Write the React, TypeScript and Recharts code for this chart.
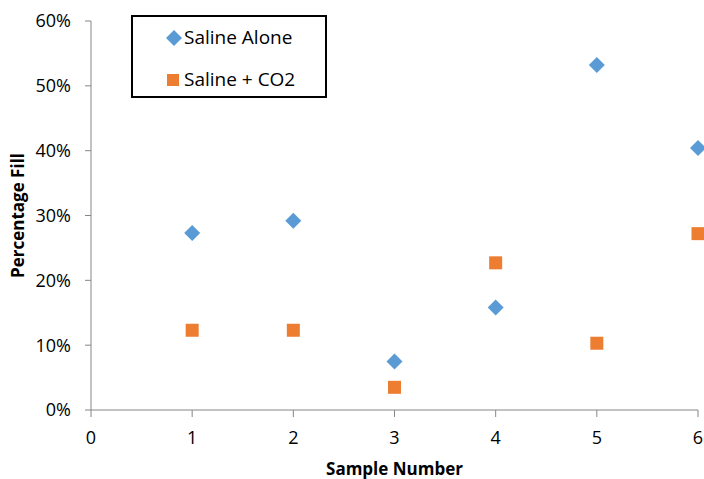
import React from 'react';
import { ScatterChart, Scatter, XAxis, YAxis, Legend } from 'recharts';

const SAMPLES = [1, 2, 3, 4, 5, 6];
const SALINE_ALONE = [0.273, 0.292, 0.075, 0.158, 0.532, 0.404];
const SALINE_CO2 = [0.123, 0.123, 0.035, 0.227, 0.103, 0.272];
const X_TICKS = [0, 1, 2, 3, 4, 5, 6];
const Y_TICKS = [0, 0.1, 0.2, 0.3, 0.4, 0.5, 0.6];
const SERIES_NAMES = ['Saline Alone', 'Saline + CO2'];

const BLUE = '#5B9BD5';
const ORANGE = '#ED7D31';
const FONT = '"Open Sans", sans-serif';
const AXIS = '#868686';

const aloneData = SAMPLES.map((x, i) => ({ x, y: SALINE_ALONE[i] }));
const co2Data = SAMPLES.map((x, i) => ({ x, y: SALINE_CO2[i] }));

const Diamond = (props: any) => {
  const { cx, cy } = props;
  const r = 8;
  return <polygon points={`${cx},${cy - r} ${cx + r},${cy} ${cx},${cy + r} ${cx - r},${cy}`} fill={BLUE} />;
};

const Square = (props: any) => {
  const { cx, cy } = props;
  const h = 6.5;
  return <rect x={cx - h} y={cy - h} width={h * 2} height={h * 2} fill={ORANGE} />;
};

const LegendBox = () => (
  <div
    style={{
      width: 192,
      height: 79,
      border: '2px solid #000',
      background: '#fff',
      fontFamily: FONT,
      fontSize: 19,
      color: '#000',
      position: 'relative',
    }}
  >
    <svg width={16} height={16} style={{ position: 'absolute', left: 33, top: 13 }}>
      <polygon points="8,0 16,8 8,16 0,8" fill={BLUE} />
    </svg>
    <div style={{ position: 'absolute', left: 51, top: 8, lineHeight: '24px' }}>{SERIES_NAMES[0]}</div>
    <svg width={12} height={12} style={{ position: 'absolute', left: 34, top: 57 }}>
      <rect x={0} y={0} width={12} height={12} fill={ORANGE} />
    </svg>
    <div style={{ position: 'absolute', left: 51, top: 50, lineHeight: '24px' }}>{SERIES_NAMES[1]}</div>
  </div>
);

const YLabel = (props: any) => {
  const vb = props.viewBox;
  const x = vb.x + 17;
  const y = vb.y + vb.height / 2;
  return (
    <text x={x} y={y} transform={`rotate(-90, ${x}, ${y})`} textAnchor="middle" dominantBaseline="central"
      fontFamily={FONT} fontSize={17} fontWeight="bold" fill="#000">
      Percentage Fill
    </text>
  );
};

const XLabel = (props: any) => {
  const vb = props.viewBox;
  const x = vb.x + vb.width / 2;
  const y = vb.y + 58;
  return (
    <text x={x} y={y} textAnchor="middle" dominantBaseline="central"
      fontFamily={FONT} fontSize={17} fontWeight="bold" fill="#000">
      Sample Number
    </text>
  );
};

export default function App() {
  return (
    <div style={{ position: 'absolute', left: 0, top: 0, width: 704, height: 479, background: '#fff' }}>
      <ScatterChart width={704} height={479} margin={{ top: 21, right: 6, bottom: 0, left: 0 }}>
        <XAxis
          type="number"
          dataKey="x"
          domain={[0, 6]}
          ticks={X_TICKS}
          interval={0}
          height={69}
          stroke={AXIS}
          tickSize={7}
          tickMargin={14}
          tick={{ fill: '#000', fontFamily: FONT, fontSize: 18 }}
          label={<XLabel />}
        />
        <YAxis
          type="number"
          dataKey="y"
          domain={[0, 0.6]}
          ticks={Y_TICKS}
          interval={0}
          width={91}
          stroke={AXIS}
          tickSize={6}
          tickMargin={14}
          tickFormatter={(v: number) => `${Math.round(v * 100)}%`}
          tick={{ fill: '#000', fontFamily: FONT, fontSize: 18 }}
          label={<YLabel />}
        />
        <Legend
          layout="vertical"
          align="center"
          verticalAlign="middle"
          content={<LegendBox />}
          wrapperStyle={{ position: 'absolute', left: 131, top: 15, width: 196, height: 83 }}
        />
        <Scatter name={SERIES_NAMES[0]} data={aloneData} shape={<Diamond />} isAnimationActive={false} />
        <Scatter name={SERIES_NAMES[1]} data={co2Data} shape={<Square />} isAnimationActive={false} />
      </ScatterChart>
    </div>
  );
}
